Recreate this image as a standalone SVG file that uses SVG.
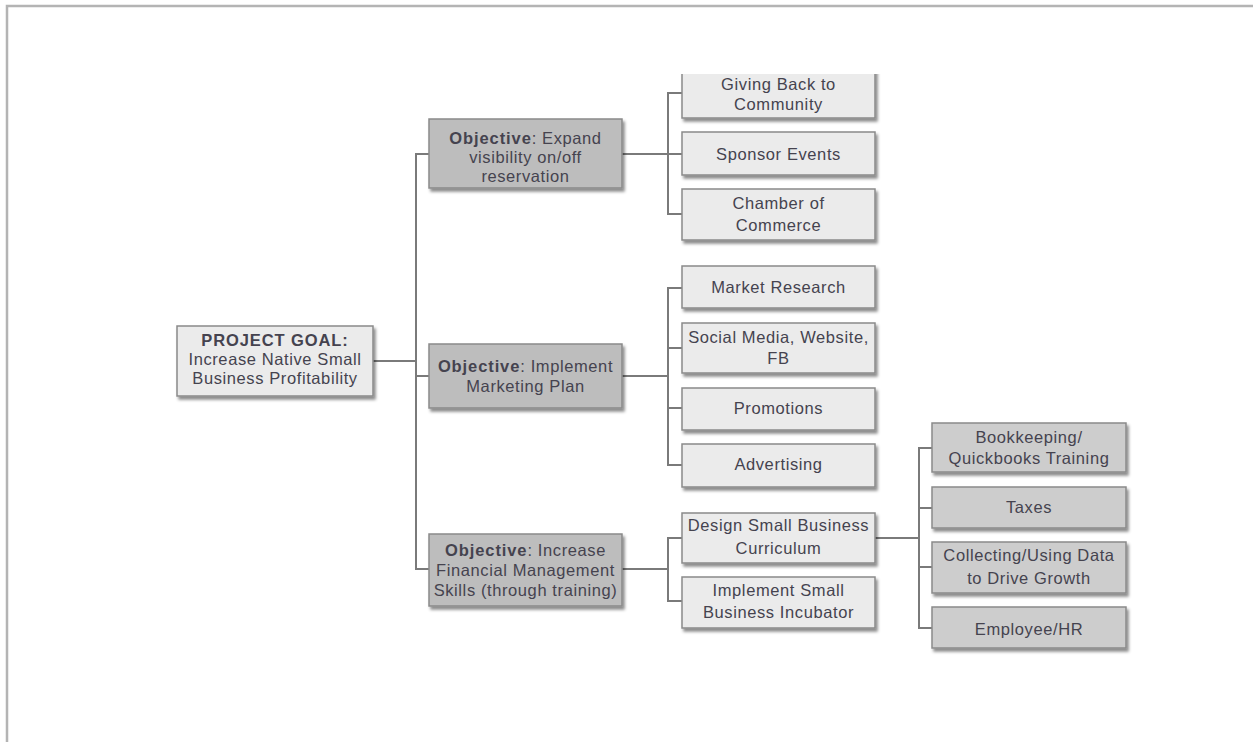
<svg xmlns="http://www.w3.org/2000/svg" width="1253" height="742" viewBox="0 0 1253 742">
<style>
.box{stroke:#8a8a8a;stroke-width:1.5}
.lt{fill:#ebebeb}
.dk{fill:#bdbdbd}
.md{fill:#cdcdcd}
.t{font-family:"Liberation Sans",Arial,sans-serif;font-size:16.5px;fill:#45434f;text-anchor:middle;letter-spacing:0.6px}
.b{font-weight:bold;letter-spacing:0.9px}
.c{fill:none;stroke:#7a7a7a;stroke-width:2}
</style>
<defs>
<filter id="sh" x="-10%" y="-10%" width="130%" height="140%">
<feDropShadow dx="2" dy="3" stdDeviation="1.5" flood-color="#000" flood-opacity="0.45"/>
</filter>
<clipPath id="clipTop"><rect x="0" y="74" width="1253" height="668"/></clipPath>
</defs>
<rect width="1253" height="742" fill="#fff"/>
<path d="M7 742 V6 H1253" fill="none" stroke="#b4b4b4" stroke-width="2.5"/>

<g id="connectors">
<path class="c" d="M373 361 H416"/>
<path class="c" d="M429 154 H416 V569 H429"/>
<path class="c" d="M416 376 H429"/>
<path class="c" d="M622 154 H668"/>
<path class="c" d="M682 93 H668 V214 H682"/>
<path class="c" d="M668 154 H682"/>
<path class="c" d="M622 376 H668"/>
<path class="c" d="M682 288 H668 V465 H682"/>
<path class="c" d="M668 348 H682"/>
<path class="c" d="M668 408 H682"/>
<path class="c" d="M622 569 H668"/>
<path class="c" d="M682 538 H668 V601 H682"/>
<path class="c" d="M875 538 H919"/>
<path class="c" d="M932 448 H919 V628 H932"/>
<path class="c" d="M919 508 H932"/>
<path class="c" d="M919 567 H932"/>
</g>

<g id="root">
<rect class="box lt" x="177" y="326" width="196" height="70" filter="url(#sh)"/>
<text class="t" x="275" y="346"><tspan class="b">PROJECT GOAL:</tspan></text>
<text class="t" x="275" y="365">Increase Native Small</text>
<text class="t" x="275" y="384">Business Profitability</text>
</g>

<g id="obj1">
<rect class="box dk" x="429" y="119" width="193" height="69" filter="url(#sh)"/>
<text class="t" x="525.5" y="144"><tspan class="b">Objective</tspan>: Expand</text>
<text class="t" x="525.5" y="163">visibility on/off</text>
<text class="t" x="525.5" y="182">reservation</text>
</g>

<g id="obj2">
<rect class="box dk" x="429" y="344" width="193" height="64" filter="url(#sh)"/>
<text class="t" x="525.5" y="372"><tspan class="b">Objective</tspan>: Implement</text>
<text class="t" x="525.5" y="392">Marketing Plan</text>
</g>

<g id="obj3">
<rect class="box dk" x="429" y="534" width="193" height="72" filter="url(#sh)"/>
<text class="t" x="525.5" y="556"><tspan class="b">Objective</tspan>: Increase</text>
<text class="t" x="525.5" y="576">Financial Management</text>
<text class="t" x="525.5" y="596">Skills (through training)</text>
</g>

<g id="giving-back" clip-path="url(#clipTop)">
<rect class="box lt" x="682" y="60" width="193" height="58" filter="url(#sh)"/>
<text class="t" x="778.5" y="90">Giving Back to</text>
<text class="t" x="778.5" y="110">Community</text>
</g>

<g id="sponsor-events">
<rect class="box lt" x="682" y="132" width="193" height="43" filter="url(#sh)"/>
<text class="t" x="778.5" y="160">Sponsor Events</text>
</g>

<g id="chamber">
<rect class="box lt" x="682" y="189" width="193" height="51" filter="url(#sh)"/>
<text class="t" x="778.5" y="209">Chamber of</text>
<text class="t" x="778.5" y="231">Commerce</text>
</g>

<g id="market-research">
<rect class="box lt" x="682" y="266" width="193" height="42" filter="url(#sh)"/>
<text class="t" x="778.5" y="293">Market Research</text>
</g>

<g id="social-media">
<rect class="box lt" x="682" y="323" width="193" height="50" filter="url(#sh)"/>
<text class="t" x="778.5" y="343">Social Media, Website,</text>
<text class="t" x="778.5" y="364">FB</text>
</g>

<g id="promotions">
<rect class="box lt" x="682" y="388" width="193" height="42" filter="url(#sh)"/>
<text class="t" x="778.5" y="414">Promotions</text>
</g>

<g id="advertising">
<rect class="box lt" x="682" y="444" width="193" height="43" filter="url(#sh)"/>
<text class="t" x="778.5" y="470">Advertising</text>
</g>

<g id="design-curriculum">
<rect class="box lt" x="682" y="513" width="193" height="50" filter="url(#sh)"/>
<text class="t" x="778.5" y="531">Design Small Business</text>
<text class="t" x="778.5" y="554">Curriculum</text>
</g>

<g id="incubator">
<rect class="box lt" x="682" y="577" width="193" height="51" filter="url(#sh)"/>
<text class="t" x="778.5" y="596">Implement Small</text>
<text class="t" x="778.5" y="618">Business Incubator</text>
</g>

<g id="bookkeeping">
<rect class="box md" x="932" y="423" width="194" height="49" filter="url(#sh)"/>
<text class="t" x="1029" y="443">Bookkeeping/</text>
<text class="t" x="1029" y="464">Quickbooks Training</text>
</g>

<g id="taxes">
<rect class="box md" x="932" y="487" width="194" height="41" filter="url(#sh)"/>
<text class="t" x="1029" y="513">Taxes</text>
</g>

<g id="collecting-data">
<rect class="box md" x="932" y="542" width="194" height="51" filter="url(#sh)"/>
<text class="t" x="1029" y="561">Collecting/Using Data</text>
<text class="t" x="1029" y="584">to Drive Growth</text>
</g>

<g id="employee-hr">
<rect class="box md" x="932" y="607" width="194" height="41" filter="url(#sh)"/>
<text class="t" x="1029" y="635">Employee/HR</text>
</g>
</svg>
